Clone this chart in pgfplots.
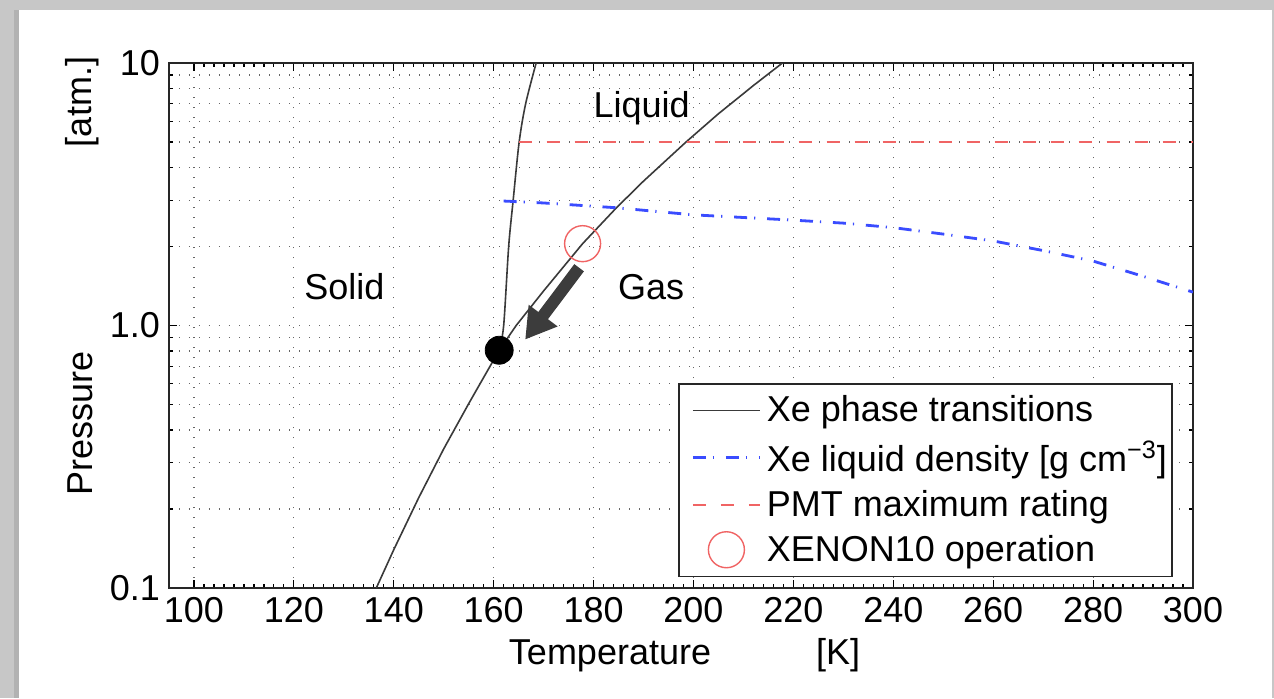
\documentclass[border=0pt]{standalone}
\usepackage{pgfplots}
\pgfplotsset{compat=1.18}
\usepackage{fontspec}
\setmainfont{Liberation Sans}
\usetikzlibrary{arrows.meta}
\definecolor{curvegray}{HTML}{3A3A3A}
\definecolor{dblue}{HTML}{3A4CFF}
\definecolor{dred}{HTML}{F06464}
\definecolor{arrowgray}{HTML}{3C3C3C}
\newcommand\bigf{\fontsize{18}{21.5}\selectfont}
\begin{document}
\begin{tikzpicture}
% screenshot frame
\fill[black!22] (-84.5pt,-55pt) rectangle (552.5pt,294pt);
\fill[black!30] (-77.5pt,-55pt) rectangle (-75pt,289pt);
\fill[white] (-75pt,-55pt) rectangle (551.5pt,289pt);
\begin{axis}[
  at={(0,0)}, anchor=south west,
  scale only axis, width=512pt, height=262.5pt,
  xmin=95, xmax=300,
  ymode=log, ymin=0.1, ymax=10,
  xtick={100,120,...,300},
  minor x tick num=9,
  ytick={0.1,1,10}, yticklabels={0.1,1.0,10},
  /pgf/number format/assume math mode=true,
  tick align=inside,
  major tick length=4pt, minor tick length=2pt,
  tick style={line width=0.6pt, black},
  axis line style={line width=0.9pt, black!85},
  xmajorgrids, ymajorgrids, yminorgrids,
  major grid style={line width=0.6pt, black!60, dash pattern=on 0.6pt off 4.4pt},
  minor grid style={line width=0.6pt, black!60, dash pattern=on 0.6pt off 4.4pt},
  ticklabel style={font=\bigf},
  xticklabel style={yshift=-1pt},
  yticklabel style={xshift=-1pt},
  legend style={font=\bigf, draw=black!85, line width=0.7pt,
    at={(0.980,0.021)}, anchor=south east,
    inner xsep=0.5pt, inner ysep=4pt, row sep=4pt},
  legend cell align=left,
  legend image code/.code={%
    \path[draw=none,fill=none] (0pt,0pt) -- (41.5pt,0pt);
    \draw[mark repeat=2,mark phase=2,#1] plot coordinates {(6.5pt,0pt) (23.25pt,0pt) (40pt,0pt)};},
  clip=true,
]
% sublimation + vaporization curve
\addplot[curvegray, line width=0.8pt] coordinates {
 (136.5,0.100) (140,0.140) (145,0.221) (150,0.339) (155,0.504)
 (161.1,0.805) (164.5,1.00) (170,1.355) (177.8,2.05) (184.5,2.80)
 (190,3.55) (198.5,5.00) (205,6.41) (207.7,7.05) (212,8.21) (217.8,10.0)
};
\addlegendentry{Xe phase transitions}
% melting curve
\addplot[curvegray, line width=0.8pt, forget plot, smooth, tension=0.5] coordinates {
 (161.1,0.805) (162.0,1.0) (163.0,2.0) (163.9,3.0)
 (165.1,5.0) (166.4,7.0) (168.5,10)
};
% liquid density
\addplot[dblue, line width=1.4pt, dash pattern=on 6.5pt off 3.5pt on 0.6pt off 5.9pt] coordinates {
 (162,2.98) (170,2.93) (184.5,2.81) (200,2.64) (220,2.52) (230,2.455)
 (240,2.36) (250,2.23) (260,2.10) (270,1.93) (280,1.76) (290,1.54) (300,1.34)
};
\addlegendentry{Xe liquid density [g cm\textsuperscript{−3}]}
% PMT rating
\addplot[dred, line width=0.9pt, dash pattern=on 6.5pt off 7.5pt] coordinates {
 (165,5) (300,5)
};
\addlegendentry{PMT maximum rating}
% XENON10 operation
\addplot[only marks, mark=o, mark size=9pt, dred, mark options={line width=0.7pt}] coordinates {
 (177.8,2.05)
};
\addlegendentry{XENON10 operation}
% triple point
\addplot[only marks, mark=*, mark size=7pt, black, forget plot] coordinates {
 (161.1,0.805)
};
% arrow
\draw[arrowgray, line width=6pt, -{Triangle[width=17pt,length=15pt]}]
  (axis cs:177.1,1.66) -- (axis cs:166.3,0.884);
% region labels
\node[font=\bigf, anchor=base] at (axis cs:189.6,6.18) {Liquid};
\node[font=\bigf, anchor=base] at (axis cs:191.5,1.256) {Gas};
\node[font=\bigf, anchor=base] at (axis cs:130.1,1.256) {Solid};
\end{axis}
% axis labels
\node[font=\bigf, rotate=90] at (-44.5pt,82.5pt) {Pressure};
\node[font=\bigf, rotate=90] at (-43.5pt,243pt) {[atm.]};
\node[font=\bigf, anchor=base] at (220.5pt,-38pt) {Temperature};
\node[font=\bigf, anchor=base] at (334.5pt,-38pt) {[K]};
\pgfresetboundingbox
\path[use as bounding box] (-84.5pt,-55pt) rectangle (552.5pt,294pt);
\end{tikzpicture}
\end{document}
